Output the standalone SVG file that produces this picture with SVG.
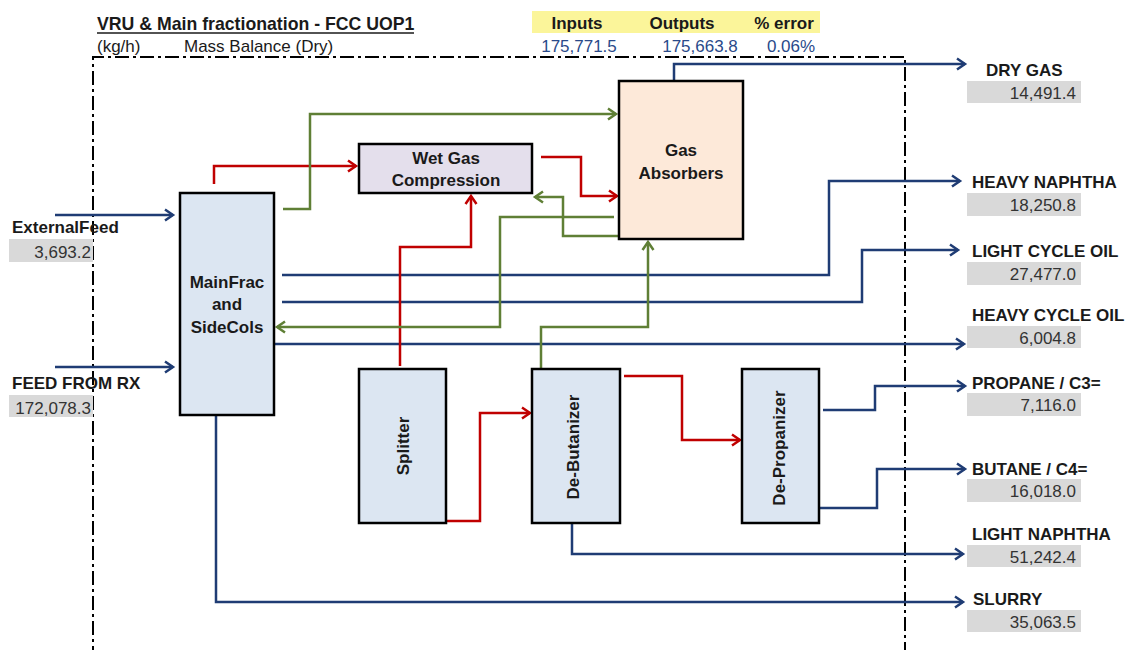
<svg xmlns="http://www.w3.org/2000/svg" width="1126" height="650" viewBox="0 0 1126 650">
<style>
  text { font-family: "Liberation Sans", Arial, sans-serif; }
  .t { font-size: 17px; font-weight: bold; fill: #1a1a1a; }
  .n { font-size: 17px; fill: #333333; }
  .hv { font-size: 17px; fill: #2a4a8a; }
  .box { stroke: #000; stroke-width: 2.5; }
  .blue { fill: none; stroke: #1f3c74; stroke-width: 2.5; marker-end: url(#ab); }
  .red { fill: none; stroke: #c00000; stroke-width: 2.5; marker-end: url(#ar); }
  .green { fill: none; stroke: #5f7f35; stroke-width: 2.5; marker-end: url(#ag); }
  .grey { fill: #d9d9d9; }
</style>
<defs>
  <marker id="ab" markerUnits="userSpaceOnUse" markerWidth="14" markerHeight="14" refX="10" refY="7" orient="auto">
    <path d="M2,1.5 L10,7 L2,12.5" fill="none" stroke="#1f3c74" stroke-width="2.5"/>
  </marker>
  <marker id="ar" markerUnits="userSpaceOnUse" markerWidth="14" markerHeight="14" refX="10" refY="7" orient="auto">
    <path d="M2,1.5 L10,7 L2,12.5" fill="none" stroke="#c00000" stroke-width="2.5"/>
  </marker>
  <marker id="ag" markerUnits="userSpaceOnUse" markerWidth="14" markerHeight="14" refX="10" refY="7" orient="auto">
    <path d="M2,1.5 L10,7 L2,12.5" fill="none" stroke="#5f7f35" stroke-width="2.5"/>
  </marker>
</defs>
<rect width="1126" height="650" fill="#ffffff"/>

<g id="header">
  <text x="97" y="30" class="t" style="font-size:17.7px">VRU &amp; Main fractionation - FCC UOP1</text>
  <line x1="97" y1="33" x2="414" y2="33" stroke="#1a1a1a" stroke-width="1.3"/>
  <text x="97" y="52" class="n" style="fill:#1a1a1a">(kg/h)</text>
  <text x="184" y="52" class="n" style="fill:#1a1a1a">Mass Balance (Dry)</text>
  <rect x="532" y="11" width="288" height="22" fill="#fbf59a"/>
  <text x="577" y="29" class="t" text-anchor="middle">Inputs</text>
  <text x="682" y="29" class="t" text-anchor="middle">Outputs</text>
  <text x="784" y="29" class="t" text-anchor="middle">% error</text>
  <text x="579" y="52" class="hv" text-anchor="middle">175,771.5</text>
  <text x="700" y="52" class="hv" text-anchor="middle">175,663.8</text>
  <text x="791" y="52" class="hv" text-anchor="middle">0.06%</text>
</g>

<g id="boundary">
  <path d="M93,660 V57 H905 V660" fill="none" stroke="#000" stroke-width="2" stroke-dasharray="14 4 3 4"/>
</g>

<g id="connectors">
  <path class="blue" d="M55,215 H173"/>
  <path class="blue" d="M55,367 H173"/>
  <path class="blue" d="M674,81 V64 H965"/>
  <path class="blue" d="M282,275 H829 V181 H960"/>
  <path class="blue" d="M282,302 H862 V250 H958"/>
  <path class="blue" d="M274,344 H964"/>
  <path class="blue" d="M823,410 H875 V386 H965"/>
  <path class="blue" d="M819,508 H877 V469 H965"/>
  <path class="blue" d="M572,523 V554 H963"/>
  <path class="blue" d="M216,415 V602 H963"/>

  <path class="red" d="M214,184 V166 H356"/>
  <path class="red" d="M541,157 H581 V196 H617"/>
  <path class="red" d="M400,366 V247 H471 V196"/>
  <path class="red" d="M426,521 H480 V413 H530"/>
  <path class="red" d="M624,376 H682 V440 H740"/>

  <path class="green" d="M283,209 H310 V114 H616"/>
  <path class="green" d="M619,236 H563 V197 H535"/>
  <path class="green" d="M614,217 H500 V327 H277"/>
  <path class="green" d="M541,368 V327 H648 V242"/>
</g>

<g id="mainfrac">
  <rect x="180" y="193" width="94" height="222" fill="#dce6f2" class="box"/>
  <text x="227" y="288" class="t" text-anchor="middle">MainFrac</text>
  <text x="227" y="310" class="t" text-anchor="middle">and</text>
  <text x="227" y="333" class="t" text-anchor="middle">SideCols</text>
</g>

<g id="wetgas">
  <rect x="359" y="144" width="173" height="49" fill="#e4dfec" class="box"/>
  <text x="446" y="164" class="t" text-anchor="middle">Wet Gas</text>
  <text x="446" y="186" class="t" text-anchor="middle">Compression</text>
</g>

<g id="absorbers">
  <rect x="619" y="81" width="124" height="158" fill="#fde9d9" class="box"/>
  <text x="681" y="156" class="t" text-anchor="middle">Gas</text>
  <text x="681" y="179" class="t" text-anchor="middle">Absorbers</text>
</g>

<g id="splitter">
  <rect x="359" y="369" width="87" height="154" fill="#dce6f2" class="box"/>
  <text transform="translate(409,446) rotate(-90)" class="t" text-anchor="middle">Splitter</text>
</g>

<g id="debutanizer">
  <rect x="532" y="369" width="88" height="154" fill="#dce6f2" class="box"/>
  <text transform="translate(579,447) rotate(-90)" class="t" text-anchor="middle">De-Butanizer</text>
</g>

<g id="depropanizer">
  <rect x="742" y="369" width="77" height="154" fill="#dce6f2" class="box"/>
  <text transform="translate(785,448) rotate(-90)" class="t" text-anchor="middle">De-Propanizer</text>
</g>

<g id="feed-external">
  <text x="12" y="233" class="t">ExternalFeed</text>
  <rect x="9" y="239" width="84" height="23" class="grey"/>
  <text x="91" y="258" class="n" text-anchor="end">3,693.2</text>
</g>
<g id="feed-rx">
  <text x="12" y="389" class="t">FEED FROM RX</text>
  <rect x="9" y="395" width="84" height="22" class="grey"/>
  <text x="91" y="414" class="n" text-anchor="end">172,078.3</text>
</g>

<g id="out-drygas">
  <text x="986" y="76" class="t">DRY GAS</text>
  <rect x="967" y="81" width="114" height="22" class="grey"/>
  <text x="1076" y="99" class="n" text-anchor="end">14,491.4</text>
</g>
<g id="out-hn">
  <text x="972" y="188" class="t">HEAVY NAPHTHA</text>
  <rect x="967" y="193" width="114" height="23" class="grey"/>
  <text x="1076" y="211" class="n" text-anchor="end">18,250.8</text>
</g>
<g id="out-lco">
  <text x="972" y="257" class="t">LIGHT CYCLE OIL</text>
  <rect x="967" y="262" width="114" height="23" class="grey"/>
  <text x="1076" y="280" class="n" text-anchor="end">27,477.0</text>
</g>
<g id="out-hco">
  <text x="972" y="321" class="t">HEAVY CYCLE OIL</text>
  <rect x="967" y="326" width="114" height="22" class="grey"/>
  <text x="1076" y="344" class="n" text-anchor="end">6,004.8</text>
</g>
<g id="out-propane">
  <text x="972" y="389" class="t">PROPANE / C3=</text>
  <rect x="967" y="393" width="114" height="23" class="grey"/>
  <text x="1076" y="411" class="n" text-anchor="end">7,116.0</text>
</g>
<g id="out-butane">
  <text x="972" y="475" class="t">BUTANE / C4=</text>
  <rect x="967" y="479" width="114" height="23" class="grey"/>
  <text x="1076" y="497" class="n" text-anchor="end">16,018.0</text>
</g>
<g id="out-ln">
  <text x="972" y="540" class="t">LIGHT NAPHTHA</text>
  <rect x="967" y="545" width="114" height="22" class="grey"/>
  <text x="1076" y="563" class="n" text-anchor="end">51,242.4</text>
</g>
<g id="out-slurry">
  <text x="973" y="605" class="t">SLURRY</text>
  <rect x="967" y="610" width="114" height="22" class="grey"/>
  <text x="1076" y="628" class="n" text-anchor="end">35,063.5</text>
</g>
</svg>
